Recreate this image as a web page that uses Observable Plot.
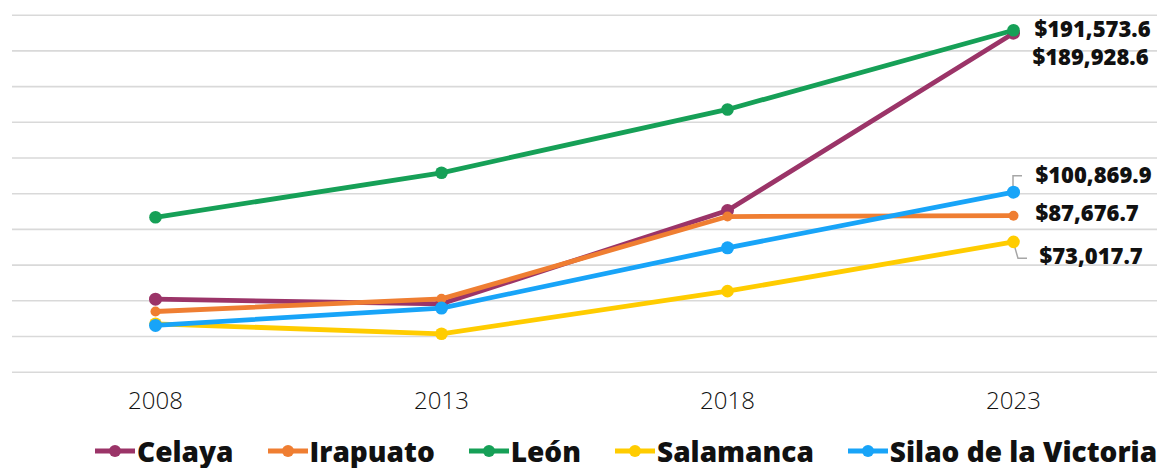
<!DOCTYPE html>
<html>
<head>
<meta charset="utf-8">
<script src="https://cdn.jsdelivr.net/npm/d3@7"></script>
<script src="https://cdn.jsdelivr.net/npm/@observablehq/plot@0.6"></script>
<style>
  html, body { margin: 0; padding: 0; background: #fff; }
  #chart svg { display: block; }
  #legend {
    display: flex; align-items: center; height: 43px; padding-top: 8px;
    padding-left: 95px; box-sizing: border-box; white-space: nowrap;
    font-family: "Open Sans", Lato, sans-serif; font-weight: 800; font-size: 28px; color: #111;
  }
  .item { display: flex; align-items: center; margin-right: 34px; }
  .item svg { margin-right: 2px; }
</style>
</head>
<body>
<div id="chart"></div>
<div id="legend"></div>
<script>
// Data
const years = [2008, 2013, 2018, 2023];
const cities = ["Celaya", "Irapuato", "León", "Salamanca", "Silao de la Victoria"];
const celaya    = [40900, 38300, 90600, 189928.6];
const irapuato  = [34000, 41100, 87200, 87676.7];
const leon      = [86800, 111700, 147200, 191573.6];
const salamanca = [27100, 21500, 45400, 73017.7];
const silao     = [26200, 35900, 69700, 100869.9];
const gridValues = [0, 20000, 40000, 60000, 80000, 100000, 120000, 140000, 160000, 180000, 200000];
const colors = ["#9B3468", "#EF7E32", "#16A057", "#FFCC00", "#18A4F8"];

const seriesValues = [celaya, irapuato, leon, salamanca, silao];
const radii = [6.5, 5, 6.3, 6.3, 6.5];

const rows = [];
cities.forEach((c, i) => years.forEach((yr, j) => rows.push({city: c, year: yr, value: seriesValues[i][j]})));
const last = cities.map((c, i) => ({city: c, year: 2023, value: seriesValues[i][3]}));

const fmt = v => "$" + d3.format(",.1f")(v);

// label offsets (px) for end labels
const labelOffsets = {
  "León": {dx: 21, dy: 0},
  "Celaya": {dx: 19, dy: 25},
  "Silao de la Victoria": {dx: 22, dy: -16},
  "Irapuato": {dx: 22, dy: -2},
  "Salamanca": {dx: 26, dy: 15}
};

const marks = [
  Plot.ruleY(gridValues, {stroke: "#d9d9d9", strokeWidth: 1.6}),
  Plot.axisX({tickSize: 0, tickPadding: 20, tickFormat: d => String(d), label: null,
    fontSize: 24, fontFamily: "Open Sans", fontWeight: 300, fill: "#111"}),
  // leader lines
  (index, scales) => {
    const g = document.createElementNS("http://www.w3.org/2000/svg", "g");
    const x = scales.x(2023), ys = scales.y(silao[3]), ya = scales.y(salamanca[3]);
    const p1 = document.createElementNS("http://www.w3.org/2000/svg", "path");
    p1.setAttribute("d", `M${x},${ys - 4}V${ys - 16}H${x + 9}`);
    const p2 = document.createElementNS("http://www.w3.org/2000/svg", "path");
    p2.setAttribute("d", `M${x + 1},${ya + 3}L${x + 5},${ya + 17}H${x + 14}`);
    for (const p of [p1, p2]) {
      p.setAttribute("fill", "none"); p.setAttribute("stroke", "#a6a6a6"); p.setAttribute("stroke-width", 1.5);
      g.appendChild(p);
    }
    return g;
  }
];
cities.forEach((c, i) => {
  const d = rows.filter(r => r.city === c);
  marks.push(Plot.line(d, {x: "year", y: "value", stroke: colors[i], strokeWidth: 4.8}));
  marks.push(Plot.dot(d, {x: "year", y: "value", fill: colors[i], r: radii[i]}));
});
cities.forEach((c) => {
  const d = last.filter(r => r.city === c);
  marks.push(Plot.text(d, {x: "year", y: "value", text: r => fmt(r.value), textAnchor: "start",
    dx: labelOffsets[c].dx, dy: labelOffsets[c].dy, fontSize: 22, fontWeight: 800, fontFamily: "Open Sans", fill: "#111"}));
});

const chart = Plot.plot({
  width: 1163,
  height: 425,
  marginTop: 14.7,
  marginBottom: 53.3,
  marginLeft: 12,
  marginRight: 6,
  x: {type: "point", domain: years, range: [154, 1014], padding: 0, axis: null},
  y: {domain: [0, 200000], axis: null},
  style: {fontFamily: "Open Sans", background: "#fff", overflow: "visible"},
  marks
});
document.getElementById("chart").appendChild(chart);

const legend = document.getElementById("legend");
cities.forEach((c, i) => {
  const item = document.createElement("div");
  item.className = "item";
  item.innerHTML = `<svg width="40" height="14"><line x1="0" y1="7" x2="40" y2="7" stroke="${colors[i]}" stroke-width="5"/><circle cx="20" cy="7" r="6" fill="${colors[i]}"/></svg><span>${c}</span>`;
  legend.appendChild(item);
});
</script>
</body>
</html>
